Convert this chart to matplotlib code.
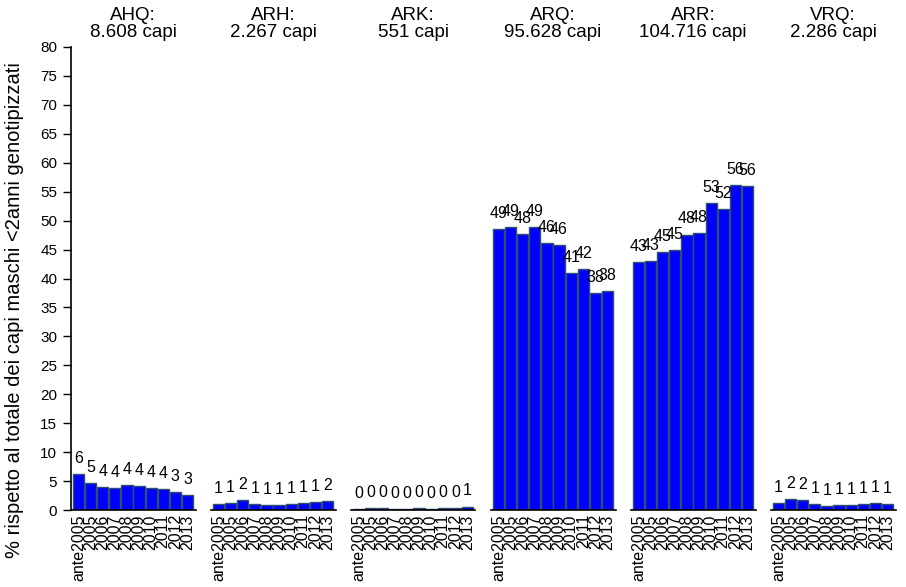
import matplotlib
matplotlib.use('Agg')
import matplotlib.pyplot as plt
import numpy as np

plt.rcParams['font.family'] = ['Liberation Sans', 'DejaVu Sans']

years = ['ante2005', '2005', '2006', '2007', '2008', '2009', '2010', '2011', '2012', '2013']
groups = ['AHQ', 'ARH', 'ARK', 'ARQ', 'ARR', 'VRQ']
capi = ['8.608', '2.267', '551', '95.628', '104.716', '2.286']

ahq = [6.2, 4.6, 3.9, 3.75, 4.3, 4.1, 3.75, 3.6, 3.05, 2.6]
arh = [1.0, 1.2, 1.7, 1.0, 0.8, 0.8, 1.0, 1.25, 1.4, 1.55]
ark = [0.1, 0.3, 0.3, 0.1, 0.1, 0.3, 0.1, 0.3, 0.3, 0.6]
arq = [48.6, 48.9, 47.7, 48.9, 46.1, 45.8, 40.9, 41.6, 37.5, 37.8]
arr = [42.8, 43.0, 44.6, 44.9, 47.6, 47.8, 53.0, 52.0, 56.1, 55.9]
vrq = [1.25, 1.9, 1.7, 1.0, 0.65, 0.86, 0.86, 1.0, 1.2, 1.0]
series = [ahq, arh, ark, arq, arr, vrq]

W, H = 906, 587
fig = plt.figure(figsize=(W / 100, H / 100), dpi=100)

y0, y80 = 510, 47
x = np.arange(len(years))
pad = 2 / 12.1

for k, vals in enumerate(series):
    left = 70.5 + 140 * k
    ax = fig.add_axes([left / W, (H - y0) / H, 125 / W, (y0 - y80) / H])
    ax.bar(x, vals, width=0.92, color='#0000ff', edgecolor='#2f4f6f', linewidth=1)
    for xi, v in zip(x, vals):
        ax.text(xi, v + 2.7, '%d' % int(v + 0.5), ha='center', va='center', fontsize=11.5)
    ax.set_xlim(-0.5 - pad, 9.5 + pad)
    ax.set_ylim(0, 80)
    ax.set_xticks(x)
    ax.set_xticklabels(years, rotation=90, fontsize=11.5)
    ax.tick_params(axis='x', length=0, pad=3)
    for s in ['top', 'right']:
        ax.spines[s].set_visible(False)
    ax.spines['bottom'].set_linewidth(1.2)
    if k == 0:
        ax.set_yticks(np.arange(0, 81, 5))
        ax.tick_params(axis='y', labelsize=11, length=6, width=1)
        ax.spines['left'].set_linewidth(1.2)
    else:
        ax.spines['left'].set_visible(False)
        ax.set_yticks([])
    ax.set_title('%s:\n%s capi' % (groups[k], capi[k]), fontsize=13.5,
                 linespacing=1.0, pad=7)
    ax.patch.set_alpha(0)

fig.text(15 / W, 1 - 310 / H, '% rispetto al totale dei capi maschi <2anni genotipizzati',
         rotation=90, ha='center', va='center', fontsize=14.5)

fig.savefig('out.png', dpi=100)
